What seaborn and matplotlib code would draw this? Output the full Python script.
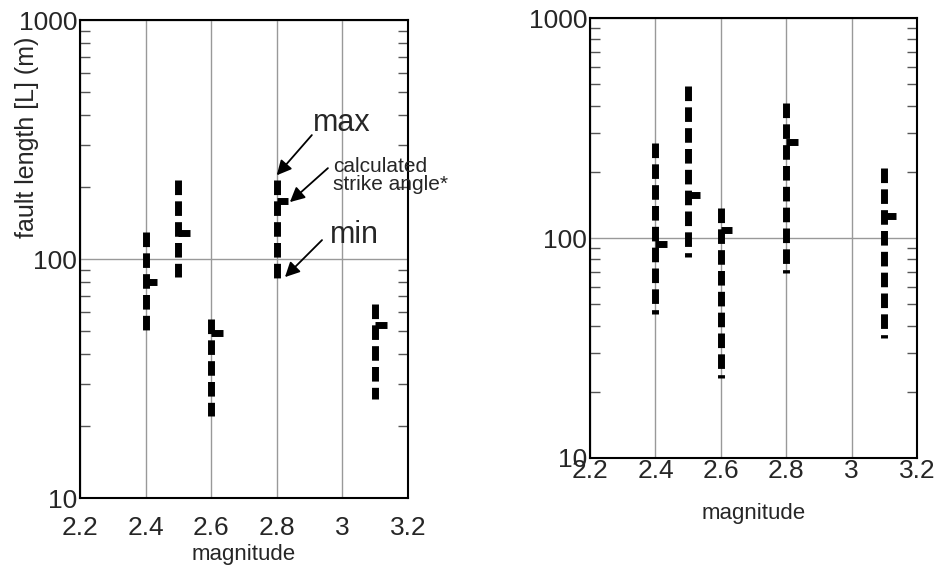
import numpy as np
import pandas as pd
import matplotlib
matplotlib.use("Agg")
import matplotlib.pyplot as plt
from matplotlib.ticker import LogLocator, NullFormatter, FixedLocator
import seaborn as sns

# data
magnitudes = [2.4, 2.5, 2.6, 2.8, 3.1]
left_max = [130, 215, 56, 215, 65]
left_min = [50, 84, 22, 83, 26]
left_strike = [80, 128, 49, 175, 53]
right_max = [270, 490, 137, 410, 208]
right_min = [45, 82, 23, 69, 35]
right_strike = [94, 157, 109, 273, 126]

x_ticks = [2.2, 2.4, 2.6, 2.8, 3.0, 3.2]
x_labels = ["2.2", "2.4", "2.6", "2.8", "3", "3.2"]
y_ticks = [10, 100, 1000]
y_labels = ["10", "100", "1000"]

sns.set_style("white")
plt.rcParams["font.family"] = ["Liberation Sans", "DejaVu Sans"]


def ranges_frame(mags, hi, lo):
    rows = []
    for m, a, b in zip(mags, hi, lo):
        rows.append({"magnitude": m, "length": a, "event": m})
        rows.append({"magnitude": m, "length": b, "event": m})
    return pd.DataFrame(rows)


def draw_panel(ax, hi, lo, strike, xpad, labpad):
    df = ranges_frame(magnitudes, hi, lo)
    sns.lineplot(data=df, x="magnitude", y="length", units="event",
                 estimator=None, sort=False, color="black", lw=5,
                 linestyle=(0, (2.1, 0.9)), solid_capstyle="butt",
                 dash_capstyle="butt", ax=ax, zorder=3)
    # short horizontal tick marking the calculated strike angle
    ax.hlines(strike, magnitudes, np.array(magnitudes) + 0.035,
              color="black", lw=5, zorder=3)
    ax.set_yscale("log")
    ax.set_xlim(2.2, 3.2)
    ax.set_ylim(10, 1000)
    ax.xaxis.set_major_locator(FixedLocator(x_ticks))
    ax.set_xticklabels(x_labels)
    ax.yaxis.set_major_locator(FixedLocator(y_ticks))
    ax.set_yticklabels(y_labels)
    ax.yaxis.set_minor_locator(LogLocator(base=10, subs=np.arange(2, 10)))
    ax.yaxis.set_minor_formatter(NullFormatter())
    ax.tick_params(axis="both", which="major", length=0, labelsize=19)
    ax.tick_params(axis="x", pad=xpad)
    ax.tick_params(axis="y", pad=2)
    ax.tick_params(axis="y", which="minor", direction="in", length=7,
                   width=1, color="#555555", left=True, right=True)
    ax.grid(True, which="major", color="#999999", lw=1)
    for s in ax.spines.values():
        s.set_color("black")
        s.set_linewidth(1.5)
    ax.set_xlabel("magnitude", fontsize=16, labelpad=labpad)
    ax.set_ylabel("")


fig = plt.figure(figsize=(9.43, 5.70), dpi=100)
ax1 = fig.add_axes([0.0848, 0.1263, 0.3478, 0.8386])
ax2 = fig.add_axes([0.6257, 0.1965, 0.3468, 0.7719])

draw_panel(ax1, left_max, left_min, left_strike, xpad=13, labpad=3)
draw_panel(ax2, right_max, right_min, right_strike, xpad=1, labpad=14)

ax1.set_ylabel("fault length [L] (m)", fontsize=18)
ax1.yaxis.set_label_coords(-0.125, 0.755)

# labels explaining the marks
arrow = dict(arrowstyle="-|>", color="black", lw=1.3, mutation_scale=22,
             shrinkA=0, shrinkB=0)
ax1.annotate("", xy=(2.80, 224), xytext=(2.907, 330), arrowprops=arrow)
ax1.annotate("", xy=(2.84, 173), xytext=(2.956, 240), arrowprops=arrow)
ax1.annotate("", xy=(2.825, 84), xytext=(2.938, 120), arrowprops=arrow)
ax1.text(2.91, 371, "max", fontsize=22, va="center", ha="left")
ax1.text(2.971, 224, "calculated\nstrike angle*", fontsize=15,
         va="center", ha="left", linespacing=0.95)
ax1.text(2.962, 126, "min", fontsize=22, va="center", ha="left")

fig.savefig("out.png", dpi=100)
